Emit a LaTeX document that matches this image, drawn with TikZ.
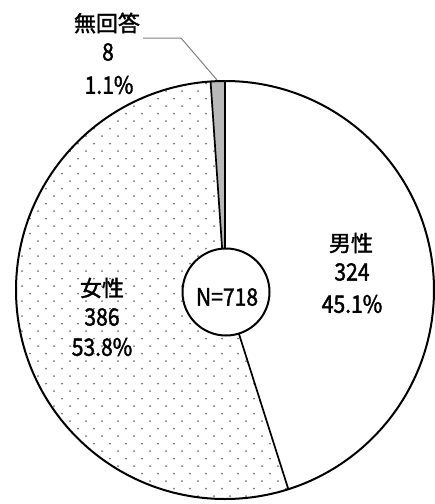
\documentclass[tikz,border=0pt]{standalone}
\usepackage{fontspec}
\setmainfont{Noto Sans CJK JP}[FakeBold=1.6]
\newfontfamily\dg{Noto Sans CJK JP}[FakeBold=1.6,FakeStretch=0.88]
\usetikzlibrary{calc}
\begin{document}
\begin{tikzpicture}[x=1pt,y=-1pt,
  edge/.style={line width=2pt,black},
  ray/.style={line width=1.7pt,black},
  jp/.style={font=\fontsize{22}{26}\selectfont,inner sep=0pt},
  num/.style={font=\dg\fontsize{24}{26}\selectfont,inner sep=0pt},
  leader/.style={gray,line width=1pt}]
\useasboundingbox (0,0) rectangle (435,504);
\def\R{209}
\coordinate (c) at (225,290);
% female sector with dots
\begin{scope}
  \clip (c) -- ++(72.36:\R) arc[start angle=72.36,end angle=266.04,radius=\R] -- cycle;
  \foreach \j in {0,...,60}{
    \pgfmathsetmacro{\yy}{76+\j*7.5}
    \pgfmathsetmacro{\off}{mod(\j,2)*8}
    \foreach \i in {0,...,19}{
      \fill[black!55] ({6+\off+\i*16},\yy) circle (1.0);
    }
  }
\end{scope}
% no answer sliver
\fill[gray!55] (c) -- ++(266.04:\R) arc[start angle=266.04,end angle=270,radius=\R] -- cycle;
% outline
\draw[edge] (c) circle (\R);
\coordinate (b1) at ($(c)+(72.36:\R)$);
\coordinate (b2) at ($(c)+(266.04:\R)$);
\coordinate (b3) at ($(c)+(270:\R)$);
\draw[ray] (c) -- (b1);
\draw[ray] (c) -- (b2);
\draw[ray] (c) -- (b3);
% center circle
\node[circle,draw,line width=2pt,fill=white,minimum size=87pt,inner sep=0pt] (n) at (226,292) {};
\node[num] (nt) at (227,297) {N=718};
% labels
\node[jp]  (m1) at (351,243) {男性};
\node[num] (m2) at (352,272) {324};
\node[num] (m3) at (352,304) {45.1\%};
\node[jp]  (f1) at (102,288) {女性};
\node[num] (f2) at (102,317) {386};
\node[num] (f3) at (102,347) {53.8\%};
\node[jp]  (a1) at (107,23) {無回答};
\node[num] (a2) at (108,52) {8};
\node[num] (a3) at (109,85) {1.1\%};
% leader
\coordinate (l0) at (217,80);
\coordinate (l1) at (181,38);
\coordinate (l2) at (143,38);
\draw[leader] (l0) -- (l1) -- (l2);
\end{tikzpicture}
\end{document}
